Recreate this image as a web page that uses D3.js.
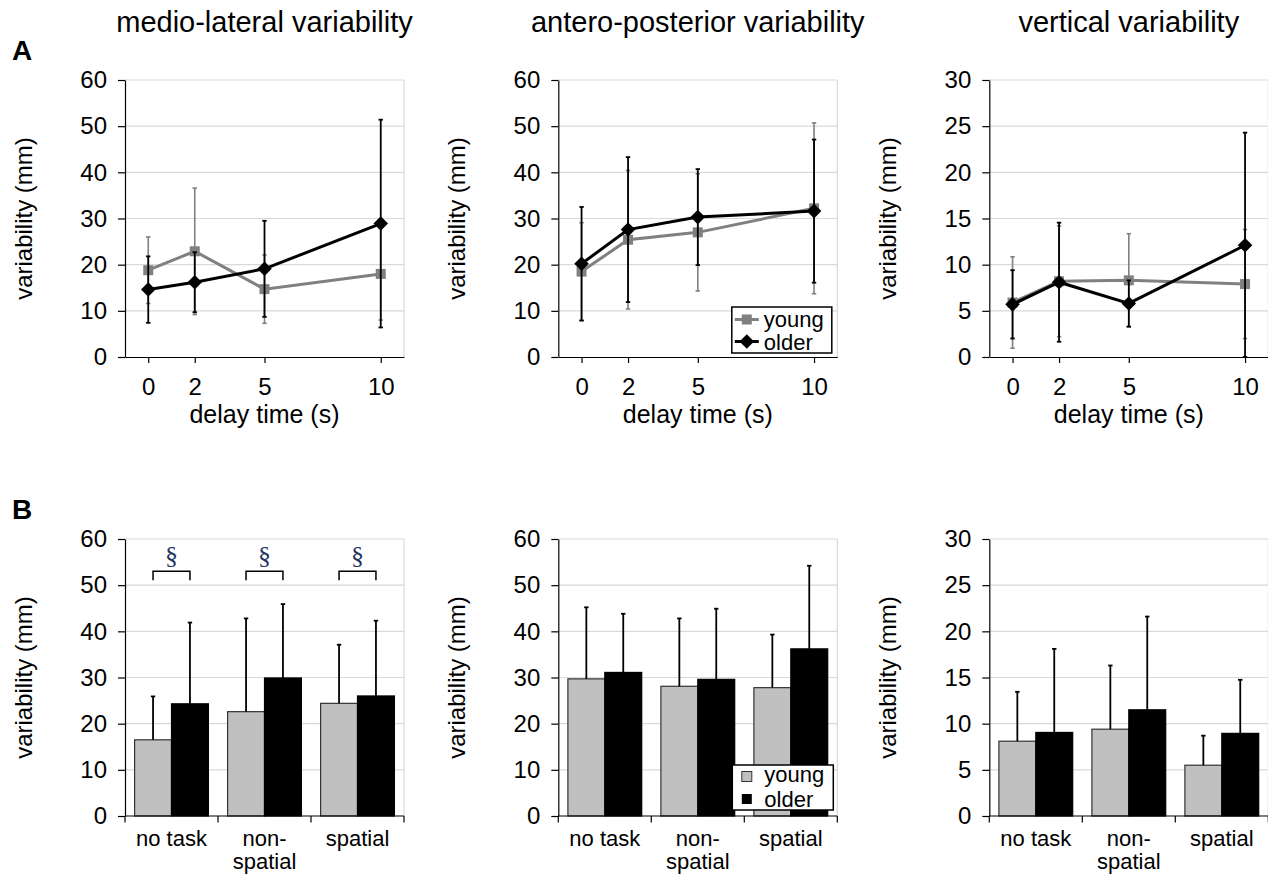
<!DOCTYPE html>
<html>
<head>
<meta charset="utf-8">
<script src="https://cdn.jsdelivr.net/npm/d3@7"></script>
<style>
  body { margin: 0; background: #fff; }
  svg text { font-family: "Liberation Sans", Arial, sans-serif; fill: #000; }
</style>
</head>
<body>
<svg id="chart" width="1268" height="874"></svg>
<script>
// --- data ---
const delays = [0, 2, 5, 10];

// medio-lateral (A)
const mlYoung = [18.8, 22.9, 14.7, 18.0];
const mlYoungSD = [7.2, 13.7, 7.4, 10.0];
const mlOlder = [14.6, 16.2, 19.1, 28.9];
const mlOlderSD = [7.2, 6.5, 10.4, 22.5];

// antero-posterior (A)
const apYoung = [18.5, 25.4, 27.0, 32.2];
const apYoungSD = [10.6, 15.0, 12.7, 18.5];
const apOlder = [20.2, 27.6, 30.3, 31.6];
const apOlderSD = [12.3, 15.7, 10.4, 15.5];

// vertical (A)
const vYoung = [5.9, 8.2, 8.3, 7.9];
const vYoungSD = [4.95, 6.0, 5.05, 5.9];
const vOlder = [5.7, 8.1, 5.8, 12.1];
const vOlderSD = [3.7, 6.45, 2.5, 12.2];

// task conditions (B)
const tasks = ["no task", "non-spatial", "spatial"];
const taskLabels = [["no task"], ["non-", "spatial"], ["spatial"]];

const mlBarYoung = [16.5, 22.6, 24.4];
const mlBarYoungSD = [9.4, 20.2, 12.7];
const mlBarOlder = [24.3, 29.9, 26.0];
const mlBarOlderSD = [17.6, 16.0, 16.3];

const apBarYoung = [29.7, 28.1, 27.8];
const apBarYoungSD = [15.5, 14.7, 11.5];
const apBarOlder = [31.1, 29.6, 36.2];
const apBarOlderSD = [12.7, 15.3, 18.0];

const vBarYoung = [8.1, 9.4, 5.5];
const vBarYoungSD = [5.35, 6.9, 3.2];
const vBarOlder = [9.05, 11.5, 8.95];
const vBarOlderSD = [9.05, 10.1, 5.8];

const sigLevel = 53; // bracket height for the § marks

const titles = ["medio-lateral variability", "antero-posterior variability", "vertical variability"];

// --- layout ---
const cols = [125, 558.3, 989.3];
const rowTop = 80, rowBottom = 539;
const plotW = 279, plotH = 277;

const gray = "#808080", gridColor = "#d9d9d9";

const svg = d3.select("#chart");

function styleAxis(g) {
  g.select(".domain").attr("stroke", "#000").attr("stroke-width", 1.2);
  g.selectAll(".tick line").attr("stroke", "#000").attr("stroke-width", 1.2);
  g.selectAll(".tick text").attr("font-size", 24).attr("font-family", "Liberation Sans, Arial, sans-serif");
}

function frame(g, y, ticks) {
  g.append("g").selectAll("line")
    .data(ticks.filter(d => d > 0))
    .join("line")
    .attr("x1", 0).attr("x2", plotW)
    .attr("y1", d => y(d)).attr("y2", d => y(d))
    .attr("stroke", gridColor).attr("stroke-width", 1.2);
  g.append("line")
    .attr("x1", plotW).attr("x2", plotW)
    .attr("y1", 0).attr("y2", plotH)
    .attr("stroke", gridColor).attr("stroke-width", 1.2);
}

function yTitle(g) {
  g.append("text")
    .attr("transform", "translate(-93," + (plotH / 2) + ") rotate(-90)")
    .attr("text-anchor", "middle")
    .attr("font-size", 24)
    .text("variability (mm)");
}

function errorBars(g, xs, means, sds, color, width, both) {
  const cap = 2.2;
  xs.forEach((xv, i) => {
    const top = means[i] + sds[i];
    const bot = both ? Math.max(0, means[i] - sds[i]) : means[i];
    g.append("line")
      .attr("x1", xv.x).attr("x2", xv.x)
      .attr("y1", xv.y(top)).attr("y2", xv.y(bot))
      .attr("stroke", color).attr("stroke-width", width);
    g.append("line")
      .attr("x1", xv.x - cap).attr("x2", xv.x + cap)
      .attr("y1", xv.y(top)).attr("y2", xv.y(top))
      .attr("stroke", color).attr("stroke-width", width);
    if (both) {
      g.append("line")
        .attr("x1", xv.x - cap).attr("x2", xv.x + cap)
        .attr("y1", xv.y(bot)).attr("y2", xv.y(bot))
        .attr("stroke", color).attr("stroke-width", width);
    }
  });
}

// line panel with error bars (row A)
function linePanel(col, yMax, yStep, young, youngSD, older, olderSD, title, legend) {
  const g = svg.append("g").attr("transform", "translate(" + cols[col] + "," + rowTop + ")");
  const x = d3.scaleLinear().domain([-1, 11]).range([0, plotW]);
  const y = d3.scaleLinear().domain([0, yMax]).range([plotH, 0]);
  const ticks = d3.range(0, yMax + 0.01, yStep);

  frame(g, y, ticks);

  g.append("g").call(d3.axisLeft(y).tickValues(ticks).tickSize(7).tickPadding(11).tickSizeOuter(0))
    .call(styleAxis);
  g.append("g").attr("transform", "translate(0," + plotH + ")")
    .call(d3.axisBottom(x).tickValues(delays).tickSize(6).tickPadding(15).tickSizeOuter(0))
    .call(styleAxis);

  const pts = delays.map(d => ({ x: x(d), y: y }));

  // young
  errorBars(g, pts, young, youngSD, gray, 1.6, true);
  g.append("path")
    .datum(young)
    .attr("d", d3.line().x((d, i) => x(delays[i])).y(d => y(d)))
    .attr("fill", "none").attr("stroke", gray).attr("stroke-width", 3);
  g.append("g").selectAll("rect")
    .data(young)
    .join("rect")
    .attr("x", (d, i) => x(delays[i]) - 5).attr("y", d => y(d) - 5)
    .attr("width", 10).attr("height", 10)
    .attr("fill", gray);

  // older
  errorBars(g, pts, older, olderSD, "#000", 1.8, true);
  g.append("path")
    .datum(older)
    .attr("d", d3.line().x((d, i) => x(delays[i])).y(d => y(d)))
    .attr("fill", "none").attr("stroke", "#000").attr("stroke-width", 3);
  g.append("g").selectAll("path")
    .data(older)
    .join("path")
    .attr("d", d3.symbol(d3.symbolDiamond2, 135))
    .attr("transform", (d, i) => "translate(" + x(delays[i]) + "," + y(d) + ")")
    .attr("fill", "#000");

  yTitle(g);
  g.append("text")
    .attr("x", plotW / 2).attr("y", plotH + 66)
    .attr("text-anchor", "middle").attr("font-size", 25)
    .text("delay time (s)");

  g.append("text")
    .attr("x", plotW / 2).attr("y", -48)
    .attr("text-anchor", "middle").attr("font-size", 29)
    .text(title);

  if (legend) {
    const lg = g.append("g").attr("transform", "translate(173.5,227)");
    lg.append("rect").attr("width", 100).attr("height", 46)
      .attr("fill", "#fff").attr("stroke", "#000").attr("stroke-width", 1.5);
    lg.append("line").attr("x1", 3).attr("x2", 27).attr("y1", 12.5).attr("y2", 12.5)
      .attr("stroke", gray).attr("stroke-width", 3);
    lg.append("rect").attr("x", 10).attr("y", 7.5).attr("width", 10).attr("height", 10).attr("fill", gray);
    lg.append("text").attr("x", 32).attr("y", 20).attr("font-size", 22).text("young");
    lg.append("line").attr("x1", 3).attr("x2", 27).attr("y1", 34.5).attr("y2", 34.5)
      .attr("stroke", "#000").attr("stroke-width", 3);
    lg.append("path").attr("d", d3.symbol(d3.symbolDiamond2, 135))
      .attr("transform", "translate(15,34.5)").attr("fill", "#000");
    lg.append("text").attr("x", 32).attr("y", 42.5).attr("font-size", 22).text("older");
  }
}

// bar panel (row B)
function barPanel(col, yMax, yStep, young, youngSD, older, olderSD, sig, legend) {
  const g = svg.append("g").attr("transform", "translate(" + cols[col] + "," + rowBottom + ")");
  const x = d3.scaleBand().domain(tasks).range([0, plotW]).padding(0);
  const xs = d3.scaleBand().domain(["young", "older"]).range([0, x.bandwidth()])
    .paddingInner(0).paddingOuter(0.26);
  const y = d3.scaleLinear().domain([0, yMax]).range([plotH, 0]);
  const ticks = d3.range(0, yMax + 0.01, yStep);

  frame(g, y, ticks);

  g.append("g").call(d3.axisLeft(y).tickValues(ticks).tickSize(7).tickPadding(11).tickSizeOuter(0))
    .call(styleAxis);

  const series = [
    { key: "young", vals: young, sds: youngSD, fill: "#c0c0c0", stroke: "#333" },
    { key: "older", vals: older, sds: olderSD, fill: "#000", stroke: "#000" }
  ];

  series.forEach(s => {
    g.append("g").selectAll("rect")
      .data(s.vals)
      .join("rect")
      .attr("x", (d, i) => x(tasks[i]) + xs(s.key))
      .attr("y", d => y(d))
      .attr("width", xs.bandwidth())
      .attr("height", d => plotH - y(d))
      .attr("fill", s.fill).attr("stroke", s.stroke).attr("stroke-width", 1.2);
  });
  series.forEach(s => {
    const pts = tasks.map(t => ({ x: x(t) + xs(s.key) + xs.bandwidth() / 2, y: y }));
    errorBars(g, pts, s.vals, s.sds, "#000", 1.8, false);
  });

  // category axis with ticks at the band edges
  const edges = tasks.map(t => x(t)).concat([plotW]);
  g.append("line").attr("x1", 0).attr("x2", plotW).attr("y1", plotH).attr("y2", plotH)
    .attr("stroke", "#000").attr("stroke-width", 1.2);
  g.append("g").selectAll("line")
    .data(edges)
    .join("line")
    .attr("x1", d => d).attr("x2", d => d)
    .attr("y1", plotH).attr("y2", plotH + 6.5)
    .attr("stroke", "#000").attr("stroke-width", 1.2);
  tasks.forEach((t, i) => {
    const tx = g.append("text")
      .attr("x", x(t) + x.bandwidth() / 2)
      .attr("y", plotH + 30)
      .attr("text-anchor", "middle").attr("font-size", 22);
    taskLabels[i].forEach((line, j) => {
      tx.append("tspan").attr("x", x(t) + x.bandwidth() / 2).attr("dy", j ? 23 : 0).text(line);
    });
  });

  if (sig) {
    tasks.forEach(t => {
      const x1 = x(t) + xs("young") + xs.bandwidth() / 2;
      const x2 = x(t) + xs("older") + xs.bandwidth() / 2;
      const yy = y(sigLevel);
      g.append("path")
        .attr("d", "M" + x1 + "," + (yy + 9) + "V" + yy + "H" + x2 + "V" + (yy + 9))
        .attr("fill", "none").attr("stroke", "#000").attr("stroke-width", 1.5);
      g.append("text")
        .attr("x", (x1 + x2) / 2).attr("y", yy - 7)
        .attr("text-anchor", "middle").attr("font-size", 26)
        .style("font-family", "Liberation Serif, 'Times New Roman', serif")
        .style("fill", "#1f3562")
        .text("§");
    });
  }

  yTitle(g);

  if (legend) {
    const lg = g.append("g").attr("transform", "translate(174,226)");
    lg.append("rect").attr("width", 101).attr("height", 45)
      .attr("fill", "#fff").attr("stroke", "#000").attr("stroke-width", 1.5);
    lg.append("rect").attr("x", 9.5).attr("y", 6.5).attr("width", 10).attr("height", 10)
      .attr("fill", "#c0c0c0").attr("stroke", "#333").attr("stroke-width", 1);
    lg.append("text").attr("x", 32).attr("y", 16.5).attr("font-size", 22).text("young");
    lg.append("rect").attr("x", 9.5).attr("y", 29).attr("width", 10).attr("height", 10)
      .attr("fill", "#000");
    lg.append("text").attr("x", 32).attr("y", 41.5).attr("font-size", 22).text("older");
  }
}

linePanel(0, 60, 10, mlYoung, mlYoungSD, mlOlder, mlOlderSD, titles[0], false);
linePanel(1, 60, 10, apYoung, apYoungSD, apOlder, apOlderSD, titles[1], true);
linePanel(2, 30, 5, vYoung, vYoungSD, vOlder, vOlderSD, titles[2], false);

barPanel(0, 60, 10, mlBarYoung, mlBarYoungSD, mlBarOlder, mlBarOlderSD, true, false);
barPanel(1, 60, 10, apBarYoung, apBarYoungSD, apBarOlder, apBarOlderSD, false, true);
barPanel(2, 30, 5, vBarYoung, vBarYoungSD, vBarOlder, vBarOlderSD, false, false);

// panel letters
svg.append("text").attr("x", 12).attr("y", 60)
  .attr("font-size", 28).attr("font-weight", "bold").text("A");
svg.append("text").attr("x", 12).attr("y", 519)
  .attr("font-size", 28).attr("font-weight", "bold").text("B");
</script>
</body>
</html>
